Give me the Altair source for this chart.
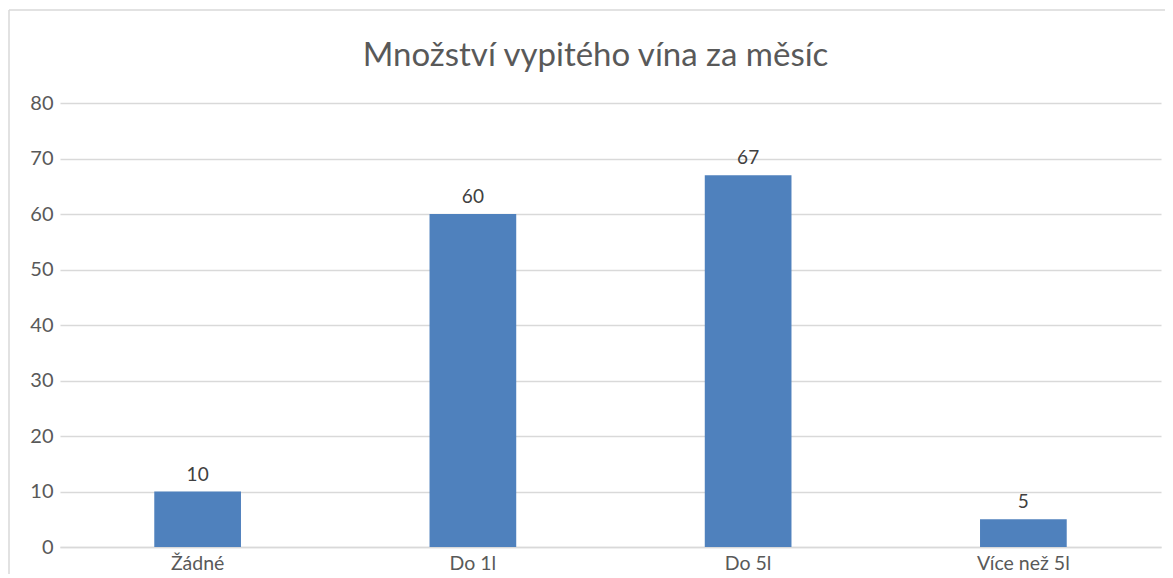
import altair as alt
import pandas as pd

categories = ["Žádné", "Do 1l", "Do 5l", "Více než 5l"]
values = [10, 60, 67, 5]
y_ticks = [0, 10, 20, 30, 40, 50, 60, 70, 80]
title_text = "Množství vypitého vína za měsíc"

df = pd.DataFrame({"kategorie": categories, "pocet": values})

FONT = "Lato"
GRAY = "#595959"

x_enc = alt.X(
    "kategorie:N",
    sort=categories,
    title=None,
    scale=alt.Scale(paddingInner=0.685, paddingOuter=0.3425),
    axis=alt.Axis(
        labelAngle=0,
        labelFont=FONT,
        labelFontSize=19.5,
        labelColor=GRAY,
        labelPadding=7,
        ticks=False,
        domainColor="#D9D9D9",
        domainWidth=1.5,
        grid=False,
    ),
)
y_enc = alt.Y(
    "pocet:Q",
    title=None,
    scale=alt.Scale(domain=[0, 80], nice=False),
    axis=alt.Axis(
        values=y_ticks,
        labelFont=FONT,
        labelFontSize=20,
        labelColor=GRAY,
        labelPadding=7,
        ticks=False,
        domain=False,
        grid=True,
        gridColor="#D9D9D9",
        gridWidth=1.3,
    ),
)

bars = alt.Chart(df).mark_bar(color="#4F81BD").encode(x=x_enc, y=y_enc)

labels = alt.Chart(df).mark_text(
    baseline="alphabetic", dy=-11, fontSize=19, font=FONT, color="#404040"
).encode(x=x_enc, y=y_enc, text="pocet:Q")

frame_df = pd.DataFrame({"t": [title_text]})
left_border = alt.Chart(frame_df).mark_rule(color="#D9D9D9", strokeWidth=1.5).encode(
    x=alt.value(-51), y=alt.value(-93), y2=alt.value(475)
)
top_border = alt.Chart(frame_df).mark_rule(color="#D9D9D9", strokeWidth=1.5).encode(
    x=alt.value(-51), x2=alt.value(1110), y=alt.value(-93)
)
title = alt.Chart(frame_df).mark_text(
    font=FONT, fontSize=33, color=GRAY, baseline="alphabetic", align="center"
).encode(x=alt.value(535.5), y=alt.value(-37), text="t:N")

chart = (
    alt.layer(left_border, top_border, title, bars, labels)
    .properties(
        width=1101,
        height=444,
        autosize=alt.AutoSizeParams(type="none"),
        padding={"left": 52, "top": 95, "right": 4, "bottom": 27},
    )
    .configure_view(stroke=None)
)

chart.save("out.html", embed_options={"renderer": "svg", "actions": False})
